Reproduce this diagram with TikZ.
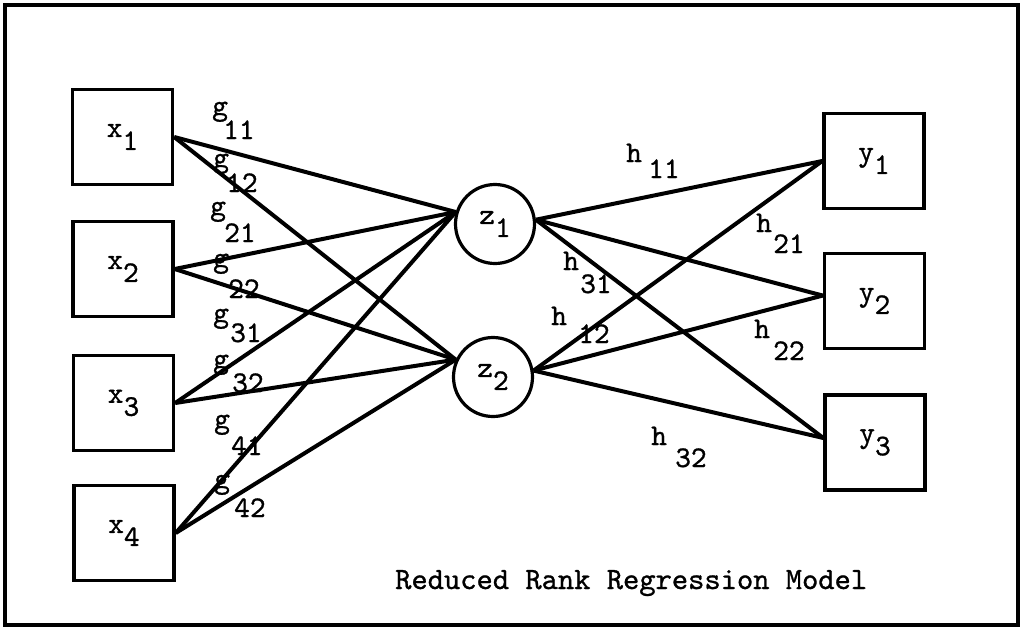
\documentclass[tikz,border=0pt]{standalone}
\usepackage{fontspec}
\newfontfamily\typew[FakeBold=0.9]{lmmono10-regular.otf}
\usetikzlibrary{positioning}
\newcommand{\idx}[2]{#1\raisebox{-13pt}{#2}}
\newcommand{\wgt}[4]{\makebox[0pt][l]{#1}\hspace{#2pt}\raisebox{-#3pt}{#4}}
\tikzset{varbox/.style={draw, line width=3.4pt, minimum width=100pt, minimum height=95pt, inner sep=0pt, font=\fontsize{30}{32}\selectfont\typew},
  factor/.style={draw, circle, line width=3.2pt, minimum size=79pt, inner sep=0pt, font=\fontsize{30}{32}\selectfont\typew},
  wlab/.style={anchor=base west, inner sep=0pt, font=\fontsize{30}{32}\selectfont\typew},
  link/.style={line width=4pt}}

\begin{document}
\begin{tikzpicture}[x=1pt, y=-1pt]
\useasboundingbox (0,0) rectangle (1021,630);
\draw[line width=3.4pt] (5,5) rectangle (1018,625);
\node[varbox] (x1) at (122.5,137) {\idx{x}{1}};
\node[varbox] (x2) at (123,269) {\idx{x}{2}};
\node[varbox] (x3) at (123.5,403) {\idx{x}{3}};
\node[varbox] (x4) at (124,533) {\idx{x}{4}};
\node[factor] (z1) at (495,224) {\idx{z}{1}};
\node[factor] (z2) at (493,377) {\idx{z}{2}};
\node[varbox] (y1) at (874,161) {\idx{y}{1}};
\node[varbox] (y2) at (874.5,301) {\idx{y}{2}};
\node[varbox] (y3) at (875,442.5) {\idx{y}{3}};
\draw[link] (x1.east) -- (z1.163);
\draw[link] (x2.east) -- (z1.163);
\draw[link] (x3.east) -- (z1.163);
\draw[link] (x4.east) -- (z1.163);
\draw[link] (x1.east) -- (z2.155);
\draw[link] (x2.east) -- (z2.155);
\draw[link] (x3.east) -- (z2.155);
\draw[link] (x4.east) -- (z2.155);
\draw[link] (z1.6) -- (y1.west);
\draw[link] (z1.6) -- (y2.174);
\draw[link] (z1.6) -- (y3.175);
\draw[link] (z2.9) -- (y1.west);
\draw[link] (z2.9) -- (y2.174);
\draw[link] (z2.9) -- (y3.175);
\node[wlab] (g11) at (212,115) {\wgt{g}{11}{24}{11}};
\node[wlab] (g12) at (213,167) {\wgt{g}{13}{25}{12}};
\node[wlab] (g21) at (210,215) {\wgt{g}{14}{27}{21}};
\node[wlab] (g22) at (213,267) {\wgt{g}{15}{31}{22}};
\node[wlab] (g31) at (213,322) {\wgt{g}{17}{20}{31}};
\node[wlab] (g32) at (213,368) {\wgt{g}{19}{24}{32}};
\node[wlab] (g41) at (214,428) {\wgt{g}{17}{27}{41}};
\node[wlab] (g42) at (214,488) {\wgt{g}{20}{29}{42}};
\node[wlab] (h11) at (626,162) {\wgt{h}{22}{16}{11}};
\node[wlab] (h21) at (756,232) {\wgt{h}{17}{21}{21}};
\node[wlab] (h31) at (563,270) {\wgt{h}{17}{23}{31}};
\node[wlab] (h12) at (551,325) {\wgt{h}{27}{18}{12}};
\node[wlab] (h22) at (754,338) {\wgt{h}{19}{22}{22}};
\node[wlab] (h32) at (651,445) {\wgt{h}{24}{22}{32}};
\node[wlab, font=\fontsize{31}{33}\selectfont\typew] (title) at (395,589) {Reduced Rank Regression Model};
\end{tikzpicture}
\end{document}
